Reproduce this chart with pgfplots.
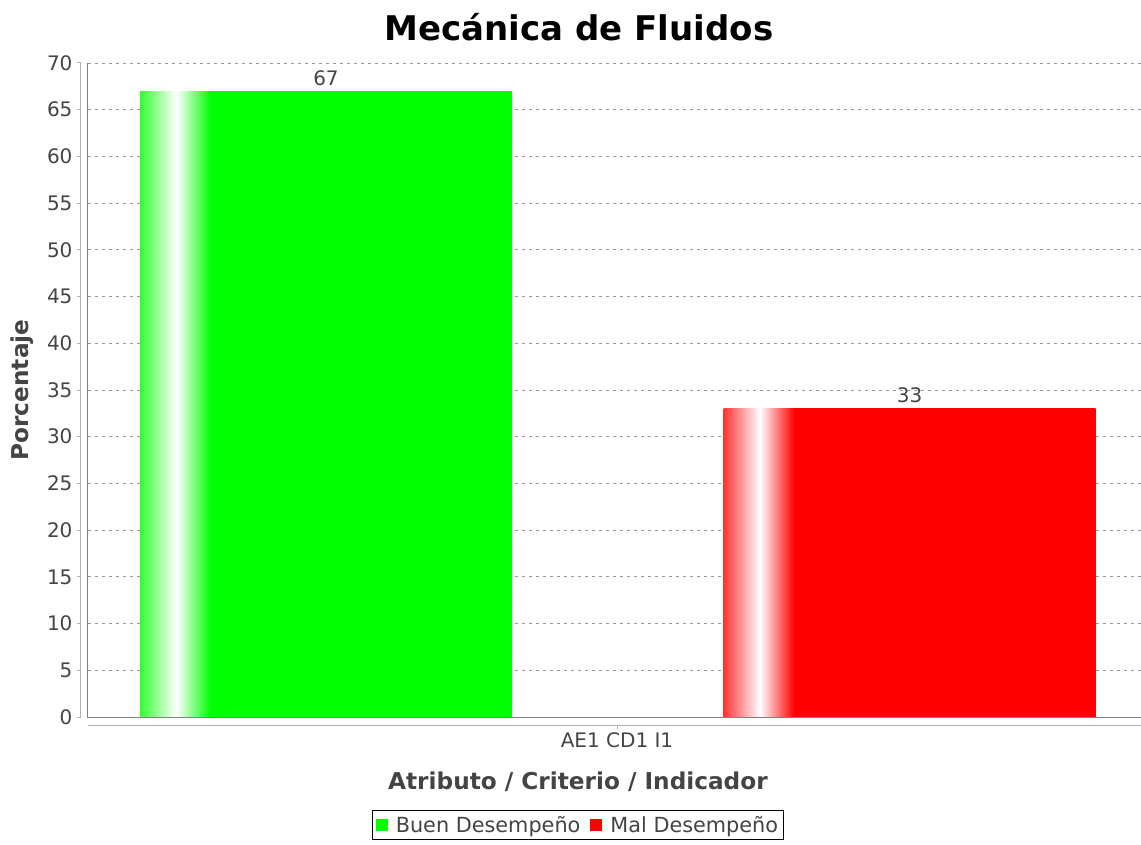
\documentclass[border=0pt]{standalone}
\usepackage{fontspec}
\setmainfont{DejaVu Sans}
\usepackage{pgfplots}
\pgfplotsset{compat=1.18}
\definecolor{mygreen}{RGB}{0,255,0}
\definecolor{myred}{RGB}{255,0,0}
\definecolor{txt}{RGB}{68,68,68}
\definecolor{gridc}{RGB}{150,150,150}
\definecolor{axc}{RGB}{175,175,175}
\pgfdeclarehorizontalshading{greenbar}{100bp}{color(0bp)=(mygreen); color(25bp)=(mygreen!80!white); color(29.9bp)=(white); color(34.5bp)=(mygreen); color(100bp)=(mygreen)}
\pgfdeclarehorizontalshading{redbar}{100bp}{color(0bp)=(myred); color(25bp)=(myred!80!white); color(29.9bp)=(white); color(34.5bp)=(myred); color(100bp)=(myred)}
\begin{document}
\begin{tikzpicture}
\useasboundingbox (-88pt,-127pt) rectangle (1053pt,717pt);
\begin{axis}[
  at={(0pt,0pt)}, anchor=south west,
  scale only axis, width=1053pt, height=654pt,
  xmin=0, xmax=1053, ymin=0, ymax=70,
  axis x line*=bottom, axis y line*=left,
  axis x line shift=8pt, axis y line shift=7pt,
  axis line style={axc, line width=1pt},
  ytick={0,5,...,70},
  xtick={529}, xticklabels={AE1 CD1 I1},
  tick align=outside, major tick length=4pt,
  tick style={axc, line width=1pt},
  ymajorgrids,
  grid style={gridc, dash pattern=on 3pt off 4pt, line width=0.8pt},
  /pgf/number format/assume math mode=true,
  ticklabel style={font=\fontsize{20}{24}\selectfont, text=txt},
  yticklabel style={xshift=-1pt},
  xlabel={Atributo / Criterio / Indicador},
  ylabel={Porcentaje},
  label style={font=\bfseries\fontsize{23.2}{27}\selectfont, text=txt},
  xlabel style={at={(axis description cs:0.4653,-0.0994)}, anchor=center},
  ylabel style={at={(axis description cs:-0.0627,0.5)}, anchor=center, rotate=0},
  nodes near coords,
  nodes near coords style={font=\fontsize{20}{24}\selectfont, text=txt, anchor=south, yshift=2pt},
  legend columns=2,
  legend style={at={(axis description cs:0.4653,-0.1651)}, anchor=center, draw=black, line width=1pt,
    font=\fontsize{20.8}{24}\selectfont, text=txt, inner xsep=3pt, inner ysep=3.5pt,
    /tikz/every odd column/.append style={column sep=6pt},
    /tikz/every even column/.append style={column sep=8pt}},
  legend image code/.code={\fill[#1, draw=none] (0pt,-6pt) rectangle (12pt,6pt);},
  clip=false,
]
\addplot[ybar, bar width=372, bar shift=0pt, draw=none, shading=greenbar, shading angle=0, forget plot] coordinates {(238,67)};
\addplot[ybar, bar width=372, bar shift=0pt, draw=none, shading=redbar, shading angle=0, forget plot] coordinates {(821.5,33)};
\addlegendimage{fill=mygreen, draw=none}
\addlegendentry{Buen Desempeño}
\addlegendimage{fill=myred, draw=none}
\addlegendentry{Mal Desempeño}
\draw[gray, line width=1pt] (rel axis cs:0,1) -- (rel axis cs:0,0) -- (rel axis cs:1,0);
\end{axis}
\node[font=\bfseries\fontsize{34}{40}\selectfont, text=black] at (491pt,690pt) {Mecánica de Fluidos};
\end{tikzpicture}
\end{document}
